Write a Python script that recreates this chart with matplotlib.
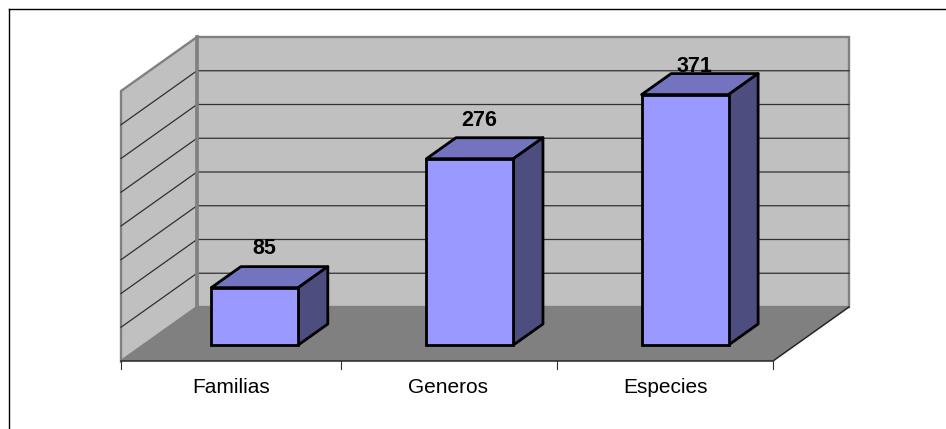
import matplotlib
matplotlib.use("Agg")
import matplotlib.pyplot as plt
from matplotlib.lines import Line2D
from matplotlib.patches import Polygon

categories = ["Familias", "Generos", "Especies"]
values = [85, 276, 371]
y_ticks = [0, 50, 100, 150, 200, 250, 300, 350, 400]

W, H = 946, 429
PX_PER_CAT = 217.33
PX_PER_UNIT = 0.675
X0_PX, Y0_PX = 121.0, 361.0      # front-left corner of the floor
FLOOR_DX = 76 / PX_PER_CAT       # full floor depth in category units
FLOOR_DY = 54 / PX_PER_UNIT      # full floor depth in value units
BAR_WIDTH = 0.40
BAR_NEAR, BAR_FAR = 0.296, 0.685 # bar depth as a fraction of the floor depth
BAR_SHIFT = 0.012
BAR_STEP = 0.99
TICK_EDGES = [-0.5, 0.512, 1.505, 2.5]
LABEL_LIFT_PX = [12.5, 12, 2]    # gap between a bar's rear top edge and its label

fig = plt.figure(figsize=(W / 100, H / 100), dpi=100, facecolor="white")
ax = fig.add_axes([0, 0, 1, 1])
ax.set_xlim(-0.5 - X0_PX / PX_PER_CAT, -0.5 + (W - X0_PX) / PX_PER_CAT)
ax.set_ylim(-(H - Y0_PX) / PX_PER_UNIT, Y0_PX / PX_PER_UNIT)
ax.axis("off")

def project(x, v, depth):
    """Map a category position, value and floor depth onto the oblique view."""
    return x + depth * FLOOR_DX, v + depth * FLOOR_DY

x_lo, x_hi = -0.5, len(categories) - 0.5
v_top = y_ticks[-1]

# Outer frame: only the top and left sides fall inside the canvas
fy = 1 - 8.5 / H
fx = 8.5 / W
fig.add_artist(Line2D([fx, 1], [fy, fy], transform=fig.transFigure, color="black", lw=1.0))
fig.add_artist(Line2D([fx, fx], [0, fy], transform=fig.transFigure, color="black", lw=1.0))

# Walls and floor
ax.add_patch(Polygon([project(x_lo, 0, 0), project(x_lo, v_top, 0),
                      project(x_lo, v_top, 1), project(x_lo, 0, 1)],
                     fc="#c0c0c0", ec="#808080", lw=1.7, joinstyle="miter", zorder=1))
ax.add_patch(Polygon([project(x_lo, 0, 1), project(x_lo, v_top, 1),
                      project(x_hi, v_top, 1), project(x_hi, 0, 1)],
                     fc="#c0c0c0", ec="#808080", lw=1.7, joinstyle="miter", zorder=1))
ax.add_patch(Polygon([project(x_lo, 0, 0), project(x_lo, 0, 1),
                      project(x_hi, 0, 1), project(x_hi, 0, 0)],
                     fc="#808080", ec="none", zorder=2))

# Gridlines on both walls
for v in y_ticks[1:-1]:
    xs, ys = zip(project(x_lo, v, 0), project(x_lo, v, 1), project(x_hi, v, 1))
    ax.plot(xs, ys, color="#303030", lw=0.9, zorder=0.9 + 0.6, solid_joinstyle="miter")
# Corner post redrawn over the gridline ends
xs, ys = zip(project(x_lo, 0, 1), project(x_lo, v_top, 1))
ax.plot(xs, ys, color="#808080", lw=2.6, zorder=1.6)

# Floor front edges and category ticks
xs, ys = zip(project(x_lo, 0, 0), project(x_hi, 0, 0), project(x_hi, 0, 1))
ax.plot(xs, ys, color="#262626", lw=1.1, zorder=3)
for edge in TICK_EDGES:
    ax.plot([edge, edge], [0, -8 / PX_PER_UNIT], color="#303030", lw=0.8, zorder=3)

# Bars: front face, top and side
for i, (name, v, lift) in enumerate(zip(categories, values, LABEL_LIFT_PX)):
    centre = i * BAR_STEP + BAR_SHIFT
    left = centre - BAR_WIDTH / 2
    right = left + BAR_WIDTH
    bx, by = project(left, 0, BAR_NEAR)
    ax.bar(bx, v, width=BAR_WIDTH, bottom=by, align="edge", color="#9999ff",
           edgecolor="black", linewidth=2.0, zorder=5)
    top = [project(left, v, BAR_NEAR), project(left, v, BAR_FAR),
           project(right, v, BAR_FAR), project(right, v, BAR_NEAR)]
    side = [project(right, 0, BAR_NEAR), project(right, v, BAR_NEAR),
            project(right, v, BAR_FAR), project(right, 0, BAR_FAR)]
    ax.add_patch(Polygon(top, fc="#7373bf", ec="black", lw=2.0, joinstyle="round", zorder=4))
    ax.add_patch(Polygon(side, fc="#4d4d80", ec="black", lw=2.0, joinstyle="round", zorder=4))
    lx, ly = project(centre, v, BAR_FAR)
    ax.text(lx - 20 / PX_PER_CAT, ly + lift / PX_PER_UNIT, str(v), ha="center", va="baseline",
            family="Liberation Sans", fontweight="bold", fontsize=15.5, color="black", zorder=6)
    ax.text(i + 1.5 / PX_PER_CAT, -32 / PX_PER_UNIT, name, ha="center", va="baseline",
            family="Liberation Sans", fontsize=15, color="black", zorder=6)

fig.savefig("out.png", dpi=100, facecolor="white")
